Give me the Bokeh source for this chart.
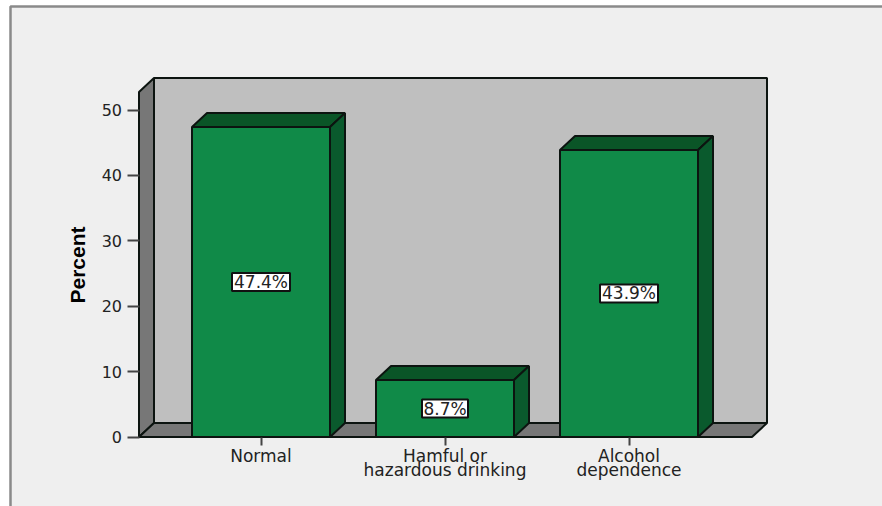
from bokeh.core.properties import value
from bokeh.embed import file_html
from bokeh.models import ColumnDataSource, FixedTicker, Range1d
from bokeh.plotting import figure
from bokeh.resources import INLINE

# Chart content
categories = ["Normal", "Hamful or\nhazardous drinking", "Alcohol\ndependence"]
percent = [47.4, 8.7, 43.9]
y_ticks = [0, 10, 20, 30, 40, 50]

# Palette
PANEL = "#efefef"
FRONT = "#108a48"
TOP = "#0a5527"
SIDE = "#0a5a2d"
WALL = "#bfbfbf"
SHADE = "#777777"
EDGE = "#0c1410"
BORDER = "#8a8a8a"

# Scale factors: pixels per category step and per percentage point
STEP, UNIT = 184, 6.54

# Pseudo-3D extrusion and wall extents, in data units
DX, DY = 15 / STEP, 14 / UNIT
HALF = 69 / STEP
X0, X1 = -122 / STEP, 491 / STEP
WALL_TOP = 345 / UNIT

# Full-bleed plot area; the axes are pinned inside it
XMIN, XMAX = -260.5 / STEP, 621.5 / STEP
YMIN, YMAX = -69.5 / UNIT, 436.5 / UNIT

p = figure(
    width=882, height=506, output_backend="svg", toolbar_location=None,
    x_range=Range1d(XMIN, XMAX), y_range=Range1d(YMIN, YMAX),
    min_border=0,
)
p.grid.visible = False
p.outline_line_color = None
p.background_fill_color = "white"
p.border_fill_color = "white"

# Light panel with a grey rule along its top and left sides
PANEL_L, PANEL_T = XMIN + 10 / STEP, YMAX - 6 / UNIT
p.quad(left=PANEL_L, right=XMAX, bottom=YMIN, top=PANEL_T, fill_color=PANEL, line_color=None)
p.line([PANEL_L, PANEL_L, XMAX], [YMIN, PANEL_T, PANEL_T], line_color=BORDER, line_width=2.5)

# Back wall, side wall and floor
p.patch([X0 + DX, X1 + DX, X1 + DX, X0 + DX], [DY, DY, WALL_TOP + DY, WALL_TOP + DY],
        fill_color=WALL, line_color=EDGE, line_width=2)
p.patch([X0, X0 + DX, X0 + DX, X0], [0, DY, WALL_TOP + DY, WALL_TOP],
        fill_color=SHADE, line_color=EDGE, line_width=2)
p.patch([X0, X0 + DX, X1 + DX, X1], [0, DY, DY, 0],
        fill_color=SHADE, line_color=EDGE, line_width=2)

# Extruded bars
xs = list(range(len(categories)))
for x, v in zip(xs, percent):
    l, r = x - HALF, x + HALF
    p.patch([l, r, r + DX, l + DX], [v, v, v + DY, v + DY],
            fill_color=TOP, line_color=EDGE, line_width=2)
    p.patch([r, r + DX, r + DX, r], [0, DY, v + DY, v],
            fill_color=SIDE, line_color=EDGE, line_width=2)
    p.patch([l, r, r, l], [0, 0, v, v], fill_color=FRONT, line_color=EDGE, line_width=2)

# Boxed value labels at mid-height of each bar
labels = [f"{v}%" for v in percent]
source = ColumnDataSource(dict(
    x=xs, y=[v / 2 for v in percent], text=labels, box_w=[12 * len(t) - 2 for t in labels],
))
p.rect(x="x", y="y", width="box_w", height=18, width_units="screen", height_units="screen",
       source=source, fill_color="white", line_color="#111111", line_width=2)
p.text(x="x", y="y", text="text", source=source, text_align="center", text_baseline="middle",
       text_font=value("DejaVu Sans"), text_font_size="17px", text_color="#222222")

# Axes
xa, ya = p.xaxis[0], p.yaxis[0]
xa.fixed_location = 0
xa.ticker = FixedTicker(ticks=xs)
xa.major_label_overrides = dict(zip(xs, categories))
xa.axis_line_color = None
xa.major_tick_line_color = "#444444"
xa.major_tick_line_width = 2
xa.major_tick_in = 0
xa.major_tick_out = 8
xa.minor_tick_line_color = None
xa.major_label_standoff = 1
xa.major_label_text_font = "DejaVu Sans"
xa.major_label_text_font_size = "17px"
xa.major_label_text_color = "#222222"
xa.major_label_text_line_height = 0.7

ya.fixed_location = X0
ya.bounds = (0, WALL_TOP)
ya.ticker = FixedTicker(ticks=y_ticks)
ya.axis_line_color = None
ya.major_tick_line_color = "#444444"
ya.major_tick_line_width = 2
ya.major_tick_in = 0
ya.major_tick_out = 12
ya.minor_tick_line_color = None
ya.major_label_standoff = 5
ya.major_label_text_font = "DejaVu Sans"
ya.major_label_text_font_size = "16px"
ya.major_label_text_color = "#222222"
ya.axis_label = "Percent"
ya.axis_label_text_font = "Liberation Sans"
ya.axis_label_text_font_size = "21px"
ya.axis_label_text_font_style = "bold"
ya.axis_label_text_color = "#000000"
ya.axis_label_standoff = 10

open("out.html", "w").write(file_html(p, INLINE))
